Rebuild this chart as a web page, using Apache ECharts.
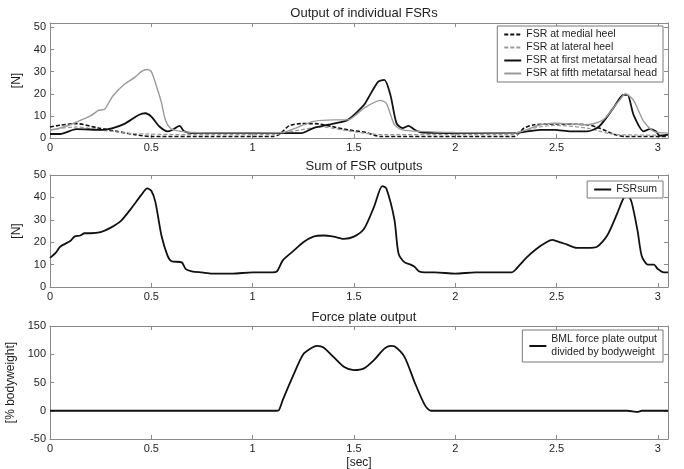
<!DOCTYPE html>
<html>
<head>
<meta charset="utf-8">
<title>FSR outputs</title>
<script src="https://cdn.jsdelivr.net/npm/echarts@6/dist/echarts.min.js"></script>
<style>
  html, body { margin: 0; padding: 0; background: #fff; }
  #chart { width: 684px; height: 469px; }
</style>
</head>
<body>
<div id="chart"></div>
<script>
// x ticks (seconds)
var xTicks = [0, 0.5, 1, 1.5, 2, 2.5, 3];

// FSR at medial heel
var medialT = [0, 0.05, 0.13, 0.24, 0.33, 0.42, 0.5, 0.8, 1.1, 1.13, 1.18, 1.24, 1.31, 1.39, 1.47, 1.56, 1.63, 2.0, 2.29, 2.34, 2.39, 2.49, 2.65, 2.71, 2.79, 2.84, 3.05];
var medialV = [5, 5.8, 6.5, 4.5, 3, 1.5, 0.7, 0.7, 0.7, 1.5, 5.5, 6.5, 6.5, 5.2, 3.7, 2.5, 0.7, 0.7, 0.7, 4.5, 6, 6.3, 6, 4.5, 1.5, 0.7, 0.7];

// FSR at lateral heel
var lateralT = [0, 0.13, 0.24, 0.33, 0.41, 0.7, 1.1, 1.15, 1.24, 1.34, 1.44, 1.55, 1.65, 2.0, 2.29, 2.39, 2.49, 2.65, 2.75, 2.81, 3.05];
var lateralV = [3.7, 5, 3.7, 2.8, 2, 1.5, 1.5, 2.2, 3.7, 5, 3.7, 2.2, 1.5, 1.5, 1.5, 4.5, 5.7, 4.5, 2.2, 1.5, 1.3];

// FSR at first metatarsal head
var firstT = [0, 0.05, 0.13, 0.26, 0.31, 0.37, 0.44, 0.47, 0.5, 0.54, 0.58, 0.6, 0.64, 0.66, 0.7, 1.0, 1.24, 1.3, 1.4, 1.47, 1.55, 1.57, 1.62, 1.65, 1.68, 1.71, 1.74, 1.77, 1.8, 1.83, 2.0, 2.29, 2.42, 2.49, 2.57, 2.65, 2.71, 2.78, 2.83, 2.85, 2.88, 2.93, 2.96, 2.99, 3.01, 3.05];
var firstV = [1.8, 1.8, 4, 3.7, 4.5, 6.5, 10.5, 11.2, 9.7, 5.2, 3, 3.5, 5.5, 3.2, 2.2, 2.2, 2.2, 4.5, 6.5, 8.2, 15, 18, 25.5, 26.3, 19.5, 6.7, 4.5, 5.5, 3.7, 2.5, 2.2, 2.2, 3.7, 3.7, 3, 3, 5.2, 13.5, 19.5, 19.5, 10.5, 3, 4, 3, 1, 1.5];

// FSR at fifth metatarsal head
var fifthT = [0, 0.05, 0.1, 0.15, 0.2, 0.24, 0.27, 0.31, 0.37, 0.42, 0.45, 0.48, 0.5, 0.52, 0.55, 0.57, 0.6, 0.65, 0.7, 0.9, 1.15, 1.2, 1.3, 1.4, 1.47, 1.55, 1.63, 1.66, 1.7, 1.74, 1.83, 2.0, 2.29, 2.42, 2.49, 2.65, 2.73, 2.81, 2.84, 2.88, 2.93, 2.98, 3.05];
var fifthV = [3.5, 4.5, 6, 8, 10, 12.5, 13, 19, 24.5, 27.5, 30, 31, 30, 25, 16, 8, 4, 3, 2.5, 2.3, 2.5, 4, 7.5, 8.2, 8.2, 13.5, 17, 15.7, 6, 3.7, 3, 2.5, 2.2, 6, 6.7, 6, 8.2, 17, 20, 17, 7.5, 3, 2.2];

// sum of FSR outputs
var sumT = [0, 0.03, 0.05, 0.1, 0.12, 0.15, 0.17, 0.2, 0.25, 0.3, 0.35, 0.4, 0.45, 0.48, 0.5, 0.52, 0.55, 0.58, 0.6, 0.65, 0.67, 0.7, 0.75, 0.8, 0.9, 1.0, 1.1, 1.12, 1.15, 1.2, 1.25, 1.3, 1.35, 1.4, 1.45, 1.5, 1.55, 1.6, 1.64, 1.66, 1.7, 1.72, 1.75, 1.78, 1.8, 1.82, 1.85, 1.9, 2.0, 2.1, 2.2, 2.28, 2.3, 2.35, 2.4, 2.45, 2.48, 2.5, 2.55, 2.6, 2.65, 2.7, 2.75, 2.8, 2.83, 2.85, 2.87, 2.9, 2.92, 2.95, 2.98, 3.0, 3.03, 3.05];
var sumV = [13, 15.5, 18, 20.5, 22.5, 23, 24, 24, 24.5, 26.5, 29.5, 35, 41, 44, 43, 38, 23, 14, 11.5, 11, 8, 7, 6.5, 6, 6, 6.5, 6.5, 7, 12, 16, 20, 22.5, 23, 22.5, 21.5, 22.5, 26, 36, 45, 44, 30, 15, 11, 10, 9, 7, 6.5, 6.5, 6, 6.5, 6.5, 6.5, 8, 13, 17, 20, 21, 20.5, 19, 17.5, 17.5, 18, 23, 33, 39.5, 41, 38, 25, 14, 10, 10, 8, 6.5, 6.5];

// force plate output [% bodyweight]
var plateT = [0, 0.5, 1.0, 1.12, 1.13, 1.15, 1.2, 1.25, 1.3, 1.32, 1.35, 1.4, 1.45, 1.5, 1.55, 1.6, 1.65, 1.68, 1.7, 1.75, 1.8, 1.85, 1.88, 2.0, 2.5, 2.85, 2.9, 2.92, 3.05];
var plateV = [0, 0, 0, 0, 1, 20, 62, 100, 113, 115, 112, 95, 78, 72, 75, 90, 110, 115, 114, 95, 50, 10, 0, 0, 0, 0, -2, 0, 0];

var pairs = function (t, v) {
  return t.map(function (x, i) { return [x, v[i]]; });
};

var FONT = "Liberation Sans, Arial, sans-serif";
var AXIS_COLOR = "#8a8a8a";
var TEXT_COLOR = "#1e1e1e";

// grid positions (left/right shared)
var grids = [
  { left: 50, right: 16, top: 23, height: 115, outerBoundsMode: "none", containLabel: false },
  { left: 50, right: 16, top: 175, height: 112, outerBoundsMode: "none", containLabel: false },
  { left: 50, right: 16, top: 326, height: 113, outerBoundsMode: "none", containLabel: false },
];

// axis helpers, matlab style box with inward ticks
function xAxisFor(gi, mirror) {
  return {
    type: "value",
    gridIndex: gi,
    position: mirror ? "top" : "bottom",
    min: 0,
    max: 3.05,
    interval: 0.5,
    axisLine: { show: true, onZero: false, lineStyle: { color: AXIS_COLOR, width: 1 } },
    axisTick: { show: true, inside: true, length: 4, lineStyle: { color: AXIS_COLOR } },
    axisLabel: {
      show: !mirror,
      color: TEXT_COLOR,
      fontFamily: FONT,
      fontSize: 11,
      margin: 4,
      formatter: function (v) { return xTicks.indexOf(v) >= 0 ? String(v) : ""; },
    },
    splitLine: { show: false },
    name: gi === 2 && !mirror ? "[sec]" : "",
    nameLocation: "middle",
    nameGap: 18,
    nameTextStyle: { color: TEXT_COLOR, fontFamily: FONT, fontSize: 12 },
  };
}

function yAxisFor(gi, mirror, min, max, interval, name) {
  return {
    type: "value",
    gridIndex: gi,
    position: mirror ? "right" : "left",
    min: min,
    max: max,
    interval: interval,
    axisLine: { show: true, onZero: false, lineStyle: { color: AXIS_COLOR, width: 1 } },
    axisTick: { show: true, inside: true, length: 4, lineStyle: { color: AXIS_COLOR } },
    axisLabel: {
      show: !mirror,
      color: TEXT_COLOR,
      fontFamily: FONT,
      fontSize: 11,
      margin: 4,
      formatter: function (v) { return v % interval === 0 ? String(v) : ""; },
    },
    splitLine: { show: false },
    name: mirror ? "" : name,
    nameLocation: "middle",
    nameRotate: 90,
    nameGap: 25,
    nameTextStyle: { color: TEXT_COLOR, fontFamily: FONT, fontSize: 12 },
  };
}

var NAME_MEDIAL = "FSR at medial heel";
var NAME_LATERAL = "FSR at lateral heel";
var NAME_FIRST = "FSR at first metatarsal head";
var NAME_FIFTH = "FSR at fifth metatarsal head";
var NAME_SUM = "FSRsum";
var NAME_PLATE = "BML force plate output\ndivided by bodyweight";

function line(name, t, v, idx, color, width, type) {
  return {
    name: name,
    type: "line",
    xAxisIndex: idx,
    yAxisIndex: idx,
    data: pairs(t, v),
    showSymbol: false,
    symbol: "none",
    smooth: 0.25,
    lineStyle: { color: color, width: width, type: type || "solid" },
    itemStyle: { color: color },
    silent: true,
    animation: false,
  };
}

var legendBase = {
  orient: "vertical",
  right: 21,
  backgroundColor: "#fff",
  borderColor: "#7a7a7a",
  borderWidth: 1,
  borderRadius: 0,
  itemWidth: 17,
  itemHeight: 8,
  itemGap: 2,
  padding: [3, 6, 3, 6],
  itemStyle: { opacity: 0 },
  textStyle: { color: TEXT_COLOR, fontFamily: FONT, fontSize: 10.5 },
};

var option = {
  backgroundColor: "#fff",
  animation: false,
  title: [
    { text: "Output of individual FSRs", left: 359, top: 2, textAlign: "center",
      textStyle: { fontFamily: FONT, fontSize: 13, fontWeight: "normal", color: TEXT_COLOR } },
    { text: "Sum of FSR outputs", left: 359, top: 155, textAlign: "center",
      textStyle: { fontFamily: FONT, fontSize: 13, fontWeight: "normal", color: TEXT_COLOR } },
    { text: "Force plate output", left: 359, top: 306, textAlign: "center",
      textStyle: { fontFamily: FONT, fontSize: 13, fontWeight: "normal", color: TEXT_COLOR } },
  ],
  legend: [
    Object.assign({}, legendBase, { top: 26, data: [NAME_MEDIAL, NAME_LATERAL, NAME_FIRST, NAME_FIFTH] }),
    Object.assign({}, legendBase, { top: 181, data: [NAME_SUM] }),
    Object.assign({}, legendBase, { top: 330, data: [NAME_PLATE], textStyle: { color: TEXT_COLOR, fontFamily: FONT, fontSize: 10.5, lineHeight: 13 } }),
  ],
  grid: grids,
  xAxis: [
    xAxisFor(0, false), xAxisFor(0, true),
    xAxisFor(1, false), xAxisFor(1, true),
    xAxisFor(2, false), xAxisFor(2, true),
  ],
  yAxis: [
    yAxisFor(0, false, 0, 52, 10, "[N]"), yAxisFor(0, true, 0, 52, 10, ""),
    yAxisFor(1, false, 0, 50, 10, "[N]"), yAxisFor(1, true, 0, 50, 10, ""),
    yAxisFor(2, false, -50, 150, 50, "[% bodyweight]"), yAxisFor(2, true, -50, 150, 50, ""),
  ],
  series: [
    line(NAME_MEDIAL, medialT, medialV, 0, "#111", 1.6, [4, 2]),
    line(NAME_LATERAL, lateralT, lateralV, 0, "#9a9a9a", 1.2, [4, 2]),
    line(NAME_FIRST, firstT, firstV, 0, "#111", 1.8),
    line(NAME_FIFTH, fifthT, fifthV, 0, "#9a9a9a", 1.4),
    line(NAME_SUM, sumT, sumV, 2, "#111", 1.8),
    line(NAME_PLATE, plateT, plateV, 4, "#111", 1.8),
  ],
};

var chart = echarts.init(document.getElementById("chart"), null, { renderer: "canvas" });
chart.setOption(option);
window.addEventListener("resize", function () { chart.resize(); });
</script>
</body>
</html>
